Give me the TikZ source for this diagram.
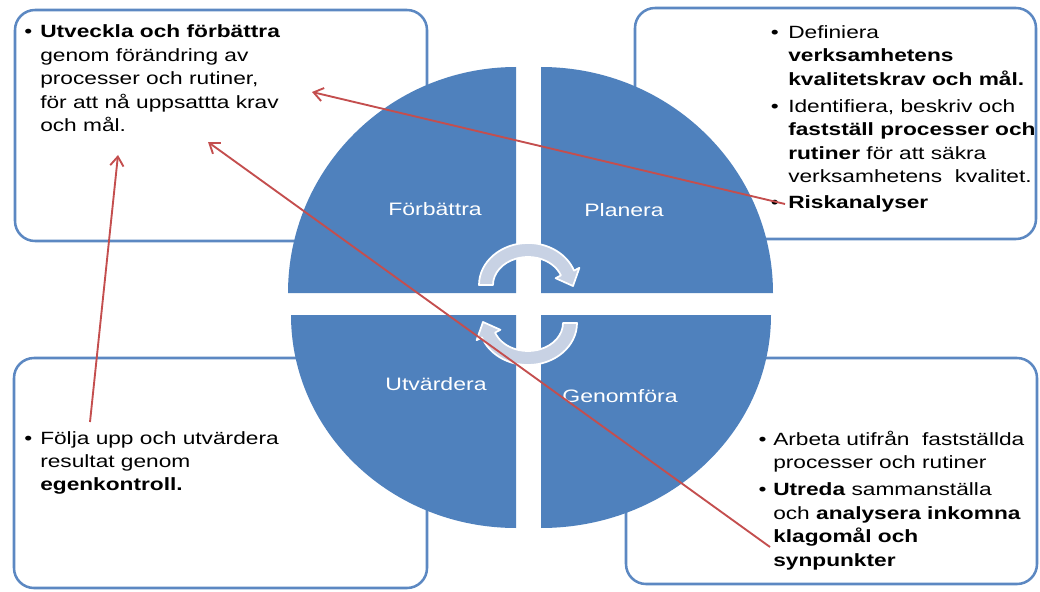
\documentclass[tikz,border=0pt]{standalone}
\usepackage{fontspec}
\setmainfont{Liberation Sans}[FakeStretch=1.28]
\usetikzlibrary{arrows.meta,calc}
\definecolor{qblue}{RGB}{79,129,189}
\definecolor{bblue}{RGB}{92,136,194}
\definecolor{rline}{RGB}{196,78,78}
\definecolor{cyc}{RGB}{200,210,228}
\newcommand{\myCycArrow}{%
  \path[cycarrow] ($(528,285)+(180:35 and 28)$) -- ($(528,285)+(180:49 and 42)$)
    arc[start angle=180, end angle=340, x radius=49, y radius=42]
    -- (579.4,267.8) -- (573,286) -- (555.6,278.2)
    -- ($(528,285)+(340:35 and 28)$)
    arc[start angle=340, end angle=180, x radius=35, y radius=28] -- cycle;}
\begin{document}
\begin{tikzpicture}[x=0.75pt,y=-0.75pt,
  box/.style={draw=bblue, line width=1.9pt, rounded corners=15pt, fill=white},
  quad/.style={fill=qblue},
  qlabel/.style={text=white, anchor=base, inner sep=0, font=\fontsize{13.5}{16}\selectfont},
  btext/.style={anchor=base west, inner sep=0, font=\fontsize{13.3}{17.6}\selectfont},
  link/.style={draw=rline, line width=1.4pt, -{Straight Barb[length=7pt,width=10pt]}},
  cycarrow/.style={fill=cyc, draw=white, line width=1.3pt, line join=round}]
\useasboundingbox (0,0) rectangle (1040,592);
\fill[white] (0,0) rectangle (1040,592);

% boxes
\path[box] (15,10) rectangle (427,241);
\path[box] (635,8) rectangle (1036,239);
\path[box] (14,358) rectangle (427,588);
\path[box] (626,358) rectangle (1037,584);

% quadrants
\path[quad] (516,293) -- (288,293) arc[start angle=180, end angle=270, x radius=228, y radius=226] -- cycle;
\path[quad] (541,293) -- (541,67) arc[start angle=270, end angle=360, x radius=232, y radius=226] -- cycle;
\path[quad] (516,315) -- (516,528) arc[start angle=90, end angle=180, x radius=225, y radius=213] -- cycle;
\path[quad] (541,315) -- (771,315) arc[start angle=0, end angle=90, x radius=230, y radius=213] -- cycle;

\node[qlabel] (forb) at (435,215) {Förbättra};
\node[qlabel] (plan) at (624,216) {Planera};
\node[qlabel] (utv) at (436,390) {Utvärdera};
\node[qlabel] (genf) at (620,402) {Genomföra};

% cycle arrows
\myCycArrow
\begin{scope}[rotate around={180:(528,304)}]
\myCycArrow
\end{scope}

% texts
\node[btext] (tl) at (40,38) {\begin{tabular}[t]{@{}l@{}}
\llap{\textbullet\hspace{6pt}}\textbf{Utveckla och förbättra}\\
genom förändring av\\
processer och rutiner,\\
för att nå uppsattta krav\\
och mål.
\end{tabular}};

\node[btext] (tr) at (788,38.5) {\begin{tabular}[t]{@{}l@{}}
\llap{\textbullet\hspace{7pt}}Definiera\\
\textbf{verksamhetens}\\
\textbf{kvalitetskrav och mål.}\\[2.6pt]
\llap{\textbullet\hspace{7pt}}Identifiera, beskriv och\\
\textbf{fastställ processer och}\\
\textbf{rutiner} för att säkra\\
verksamhetens\ \ kvalitet.\\[2pt]
\llap{\textbullet\hspace{7pt}}\textbf{Riskanalyser}
\end{tabular}};

\node[btext] (bl) at (40,444) {\begin{tabular}[t]{@{}l@{}}
\llap{\textbullet\hspace{6pt}}Följa upp och utvärdera\\
resultat genom\\
\textbf{egenkontroll.}
\end{tabular}};

\node[btext] (br) at (773,445) {\begin{tabular}[t]{@{}l@{}}
\llap{\textbullet\hspace{5pt}}Arbeta utifrån\ \ fastställda\\
processer och rutiner\\[3pt]
\llap{\textbullet\hspace{5pt}}\textbf{Utreda} sammanställa\\
och \textbf{analysera inkomna}\\
\textbf{klagomål och}\\
\textbf{synpunkter}
\end{tabular}};

% red links
\coordinate (r1s) at (785,204);
\coordinate (r1e) at (312,92);
\coordinate (r2s) at (770,547);
\coordinate (r2e) at (208,142);
\coordinate (r3s) at (90,422);
\coordinate (r3e) at (118,155);
\draw[link] (r1s) -- (r1e);
\draw[link] (r2s) -- (r2e);
\draw[link] (r3s) -- (r3e);
\end{tikzpicture}
\end{document}
